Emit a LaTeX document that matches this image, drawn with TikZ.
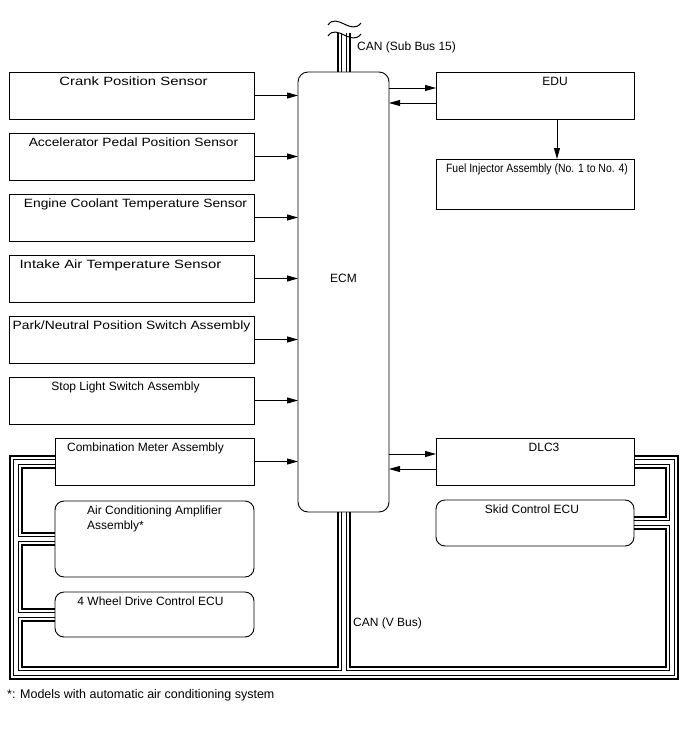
\documentclass[tikz,border=0pt]{standalone}
\usepackage{fontspec}
\setmainfont{Liberation Sans}
\newfontfamily\widefont[FakeStretch=1.15]{Liberation Sans}
\newfontfamily\widerfont[FakeStretch=1.24]{Liberation Sans}
\newfontfamily\narrowfont[FakeStretch=0.87]{Liberation Sans}
\newcommand\basesize{\fontsize{12}{15}\selectfont}
\usetikzlibrary{arrows.meta,positioning,backgrounds}

\begin{document}
\begin{tikzpicture}[
  x=1pt, y=-1pt, >={Triangle[length=11pt,width=6pt]},
  font=\basesize,
  node distance=14pt,
  box/.style={draw, line width=0.9pt, minimum width=245pt, minimum height=47pt,
              inner sep=0pt, outer sep=0pt},
  rbox/.style={box, rounded corners=9pt},
  tagtext/.style={anchor=north, inner sep=5pt, align=left},
  tag/.style={label={[tagtext]north:#1}},
  wide/.style={font=\widefont\basesize},
  wider/.style={font=\widerfont\basesize},
  lbl/.style={inner sep=0pt, anchor=west},
  link/.style={->, line width=0.8pt}
]
\useasboundingbox (0,0) rectangle (688,755);

% sensors and switches
\node[box, anchor=north west, label={[tagtext, wider, xshift=2pt]north:Crank Position Sensor}] (crank) at (9,72) {};
\node[box, below=of crank, label={[tagtext, wide, xshift=2pt]north:Accelerator Pedal Position Sensor}] (accel) {};
\node[box, below=of accel, label={[tagtext, wide, xshift=4pt]north:Engine Coolant Temperature Sensor}] (cool) {};
\node[box, below=of cool, label={[tagtext, wider, xshift=-11pt]north:Intake Air Temperature Sensor}] (intake) {};
\node[box, below=of intake, label={[tagtext, wide]north:Park/Neutral Position Switch Assembly}] (park) {};
\node[box, below=of park, label={[tagtext, xshift=-6pt]north:Stop Light Switch Assembly}] (stop) {};

% V bus members
\node[box, minimum width=199pt, below=of stop.south east, anchor=north east,
      label={[tagtext, xshift=-9pt]north:Combination Meter Assembly}] (comb) {};
\node[rbox, minimum width=199pt, minimum height=76pt, below=16pt of comb,
      tag={Air Conditioning Amplifier\\Assembly*}] (ac) {};
\node[rbox, minimum width=199pt, minimum height=45pt, below=15pt of ac,
      label={[tagtext, xshift=-4pt]north:4 Wheel Drive Control ECU}] (wd) {};

% ECM and right column
\node[rbox, rounded corners=10pt, minimum width=91pt, minimum height=440pt,
      right=44pt of crank.north east, anchor=north west,
      label={[yshift=14pt]center:ECM}] (ecm) {};
\node[box, minimum width=198pt, right=47pt of ecm.north east, anchor=north west,
      label={[tagtext, xshift=20pt]north:EDU}] (edu) {};
\node[box, minimum width=198pt, minimum height=50pt, below=40pt of edu,
      label={[tagtext, font=\narrowfont\basesize, xshift=2pt]north:Fuel Injector Assembly (No. 1 to No. 4)}] (fuel) {};
\node[box, minimum width=198pt, anchor=north west,
      label={[tagtext, xshift=9pt]north:DLC3}] (dlc) at (edu.west |- comb.north) {};
\node[rbox, minimum width=198pt, minimum height=46pt, below=15pt of dlc,
      label={[tagtext, xshift=-3pt]north:Skid Control ECU}] (skid) {};

% bus corners
\coordinate (busL) at (16,673);
\coordinate (busR) at (672,673);
\coordinate (subtop) at (ecm.north |- 0,33);

% CAN buses
\begin{scope}[on background layer]
\foreach \w/\c in {14pt/black, 10pt/white, 6pt/black, 4pt/white}
  \draw[line width=\w, draw=\c]
    (comb.west) -- (comb.west -| busL) -- (busL) -- (busR) -- (busR |- dlc.east) -- (dlc.east)
    (ac.west) -- (ac.west -| busL)
    (wd.west) -- (wd.west -| busL)
    (skid.east) -- (skid.east -| busR)
    (ecm.south) -- (ecm.south |- busL)
    (ecm.north) -- (subtop);
\end{scope}
\draw[line width=1pt] (328,25) .. controls (337,12) and (351,36) .. (361,23);
\draw[line width=1pt] (328,36) .. controls (337,23) and (351,47) .. (361,34);

\node[lbl] (subbus) at (357,47) {CAN (Sub Bus 15)};
\node[lbl] (vbus) at (353,623) {CAN (V Bus)};

% signals
\foreach \s in {crank,accel,cool,intake,park,stop,comb}
  \draw[link] (\s.east) -- (\s.east -| ecm.west);
\draw[link, transform canvas={yshift=7.5pt}] (ecm.east |- edu.west) -- (edu.west);
\draw[link, transform canvas={yshift=-7.5pt}] (edu.west) -- (edu.west -| ecm.east);
\draw[link] ([xshift=22pt]edu.south) -- ([xshift=22pt]edu.south |- fuel.north);
\draw[link, transform canvas={yshift=7.5pt}] (ecm.east |- dlc.west) -- (dlc.west);
\draw[link, transform canvas={yshift=-7.5pt}] (dlc.west) -- (dlc.west -| ecm.east);

\node[lbl, font=\fontsize{12.5}{15}\selectfont] (note) at (7,695) {*: Models with automatic air conditioning system};
\end{tikzpicture}
\end{document}
